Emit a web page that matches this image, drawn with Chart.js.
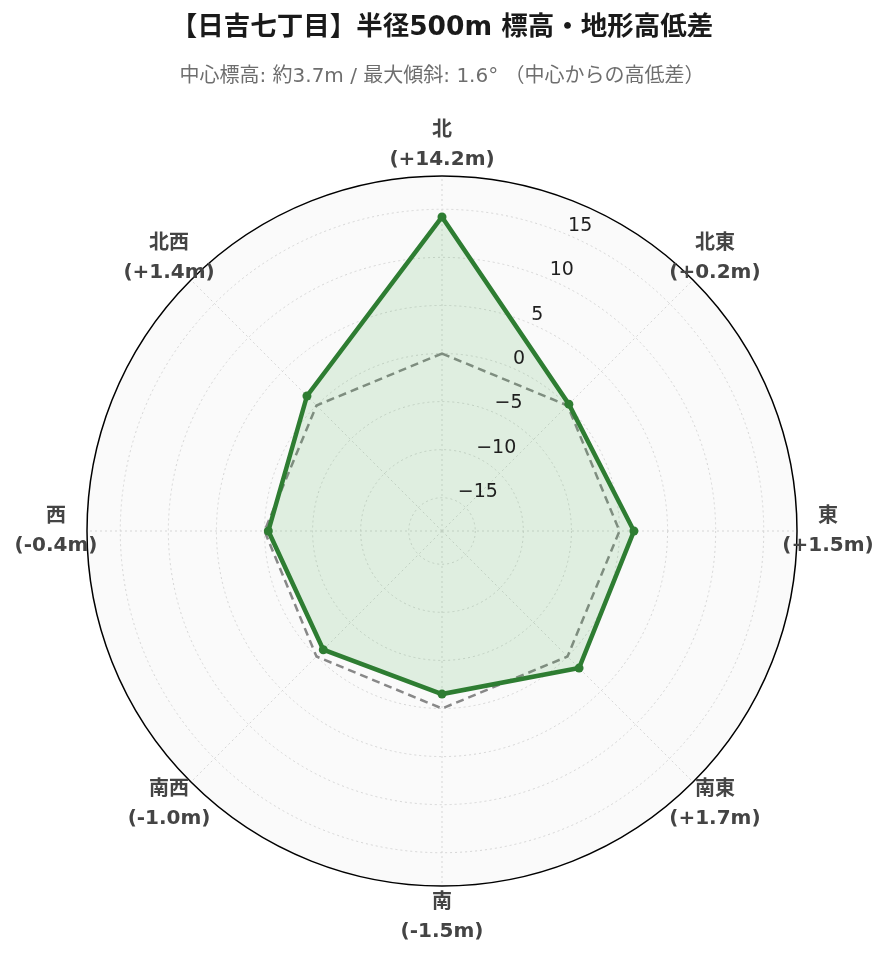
<!DOCTYPE html>
<html lang="ja">
<head>
<meta charset="utf-8">
<title>日吉七丁目 標高・地形高低差</title>
<script src="https://cdn.jsdelivr.net/npm/chart.js@4.4.1/dist/chart.umd.min.js"></script>
<style>
  html, body { margin: 0; padding: 0; background: #fff; }
  #wrap { width: 889px; height: 962px; position: relative; }
</style>
</head>
<body>
<div id="wrap"><canvas id="myChart"></canvas></div>
<script>
// 方位ごとの高低差 (中心からの差, m)
const directions = ["北", "北東", "東", "南東", "南", "南西", "西", "北西"];
const heightDiff = [14.2, 0.2, 1.5, 1.7, -1.5, -1.0, -0.4, 1.4];
const zeroLine = [0, 0, 0, 0, 0, 0, 0, 0];
const tickValues = [-15, -10, -5, 0, 5, 10, 15];
const radialMin = -18.46;
const radialMax = 18.46;

const titleText = "【日吉七丁目】半径500m 標高・地形高低差";
const subtitleText = "中心標高: 約3.7m / 最大傾斜: 1.6° （中心からの高低差）";

const latinCjk = "'DejaVu Sans', 'Noto Sans CJK JP', sans-serif";

function diffLabel(v) {
    let sign = v < 0 ? "-" : "+";
    return "(" + sign + Math.abs(v).toFixed(1) + "m)";
}
function tickLabel(v) {
    return v < 0 ? "\u2212" + Math.abs(v) : String(v);
}

function isOuter(c) {
    return c.tick && c.tick.value >= radialMax;
}

// tick labels along a tilted radial axis + two-line direction labels
const polarText = {
    id: "polarText",
    afterDatasetsDraw(chart) {
        const r = chart.scales.r;
        const ctx = chart.ctx;
        ctx.save();

        ctx.font = "19px " + latinCjk;
        ctx.fillStyle = "#1e1e1e";
        ctx.textAlign = "left";
        ctx.textBaseline = "alphabetic";
        const a = 22.5 * Math.PI / 180;
        tickValues.forEach((v) => {
            const d = r.getDistanceFromCenterForValue(v);
            const x = r.xCenter + d * Math.sin(a);
            const y = r.yCenter - d * Math.cos(a);
            ctx.fillText(tickLabel(v), x + 3, y - 3);
        });

        ctx.font = "bold 20px " + latinCjk;
        ctx.fillStyle = "#444";
        ctx.textAlign = "center";
        ctx.textBaseline = "middle";
        directions.forEach((name, i) => {
            const p = r.getPointPosition(i, r.drawingArea + 31);
            ctx.fillText(name, p.x, p.y - 14.5);
            ctx.fillText(diffLabel(heightDiff[i]), p.x, p.y + 14.5);
        });
        ctx.restore();
    }
};

const ctx = document.getElementById("myChart").getContext("2d");
const myChart = new Chart(ctx, {
    type: "radar",
    data: {
        labels: directions,
        datasets: [{
            label: "高低差",
            data: heightDiff,
            borderColor: "#2e7d32",
            backgroundColor: "rgba(76,175,80,0.15)",
            borderWidth: 4.5,
            pointRadius: 4.5,
            pointBackgroundColor: "#2e7d32",
            pointBorderColor: "#2e7d32",
            pointBorderWidth: 0,
            fill: "start"
        }, {
            label: "基準 (0m)",
            data: zeroLine,
            borderColor: "#888888",
            borderDash: [8, 5],
            borderWidth: 2.5,
            pointRadius: 0,
            fill: false
        }]
    },
    options: {
        responsive: true,
        maintainAspectRatio: false,
        animation: false,
        layout: { padding: { left: 87, right: 92, top: 0, bottom: 76 } },
        plugins: {
            legend: { display: false },
            tooltip: { enabled: false },
            title: {
                display: true,
                text: titleText,
                color: "#1a1a1a",
                font: { family: latinCjk, size: 26.5, weight: "bold", lineHeight: 1.2 },
                padding: { top: 12.1, bottom: 10 }
            },
            subtitle: {
                display: true,
                text: subtitleText,
                color: "#6e6e6e",
                font: { family: latinCjk, size: 20, weight: "normal", lineHeight: 1.2 },
                padding: { top: 11.1, bottom: 87 }
            }
        },
        scales: {
            r: {
                min: radialMin,
                max: radialMax,
                beginAtZero: false,
                backgroundColor: "#fafafa",
                afterBuildTicks: (s) => {
                    s.ticks = [radialMin].concat(tickValues, [radialMax]).map((v) => ({ value: v }));
                },
                ticks: { display: false },
                pointLabels: { display: false },
                grid: {
                    circular: true,
                    color: (c) => isOuter(c) ? "#000" : "#d6d6d6",
                    lineWidth: (c) => isOuter(c) ? 1.5 : 1
                },
                border: {
                    dash: (c) => isOuter(c) ? [] : [2, 3]
                },
                angleLines: {
                    color: "#d6d6d6",
                    lineWidth: 1,
                    borderDash: [2, 3]
                }
            }
        }
    },
    plugins: [polarText]
});
</script>
</body>
</html>
